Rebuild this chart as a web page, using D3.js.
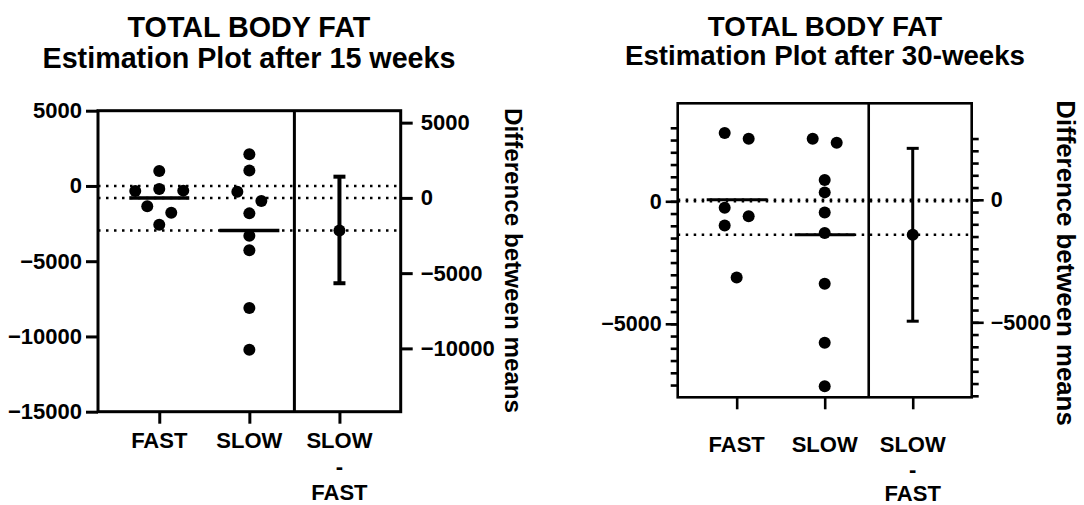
<!DOCTYPE html>
<html>
<head>
<meta charset="utf-8">
<script src="https://cdnjs.cloudflare.com/ajax/libs/d3/7.8.5/d3.min.js"></script>
<style>
  body { margin: 0; background: #fff; }
  svg text { font-family: "Liberation Sans", Arial, sans-serif; font-weight: bold; fill: #000; }
</style>
</head>
<body>
<svg id="chart" width="1084" height="505"></svg>
<script>
// values
const categories = ["FAST", "SLOW", "SLOW - FAST"];

const fast15 = [1000, -200, -311, -333, -1356, -1778, -2578];
const slow15 = [2111, 1022, -378, -1000, -1822, -3311, -4267, -8111, -10889];
const ci15 = [-5670, 1410];

const fast30 = [2791, 2549, -267, -607, -983, -3115];
const slow30 = [2549, 2387, 866, 364, -457, -1294, -3370, -5769, -7549];
const ci30 = [-4955, 2100];

const leftTicks15 = [5000, 0, -5000, -10000, -15000];
const rightTicks15 = [5000, 0, -5000, -10000];
const leftTicks30 = [0, -5000];
const rightTicks30 = [0, -5000];
const leftMinor30 = d3.range(-7500, 3001, 500);
const rightMinor30 = d3.range(-8000, 2501, 500);

const title1 = "TOTAL BODY FAT";
const subtitle15 = "Estimation Plot after 15 weeks";
const subtitle30 = "Estimation Plot after 30-weeks";
const diffLabel = "Difference between means";

const svg = d3.select("#chart");

// simple beeswarm: columns 2 dot widths apart, each overlapping cluster centred
function swarm(values, y, r) {
  const pts = values.map(v => ({ v: v, y: y(v), dx: 0 })).sort((a, b) => a.y - b.y);
  const placed = [];
  let cluster = [];
  const flush = () => {
    if (!cluster.length) return;
    const ext = d3.extent(cluster, p => p.dx);
    const s = (ext[0] + ext[1]) / 2;
    cluster.forEach(p => p.dx -= s);
    cluster = [];
  };
  const step = 2 * r;
  const cands = [0, 1, -1, 2, -2, 3, -3, 4, -4].map(k => k * step);
  pts.forEach((p, i) => {
    if (i > 0 && p.y - pts[i - 1].y >= 2 * r) flush();
    p.dx = cands.find(c => placed.every(q => Math.abs(q.dx - c) >= 4 * r || Math.abs(q.y - p.y) >= 2 * r));
    placed.push(p);
    cluster.push(p);
  });
  flush();
  return pts;
}

function drawPanel(o) {
  const g = svg.append("g");
  const y = d3.scaleLinear().domain(o.domain).range([o.y1, o.y0]);
  const x = d3.scalePoint().domain(categories).range([o.x0, o.x1]).padding(o.pad);

  const fastMean = d3.mean(o.fast);
  const slowMean = d3.mean(o.slow);
  const diff = slowMean - fastMean;
  const yd = d3.scaleLinear()
    .domain([o.domain[0] - fastMean, o.domain[1] - fastMean])
    .range([o.y1, o.y0]);

  // titles
  g.append("text").attr("x", o.tx).attr("y", o.ty1).attr("text-anchor", "middle")
    .style("font-size", o.titleSize + "px").text(title1);
  g.append("text").attr("x", o.tx).attr("y", o.ty2).attr("text-anchor", "middle")
    .style("font-size", o.titleSize + "px").text(o.subtitle);

  // dotted reference lines
  [0, fastMean, slowMean].forEach(v => {
    g.append("line")
      .attr("x1", o.x0).attr("x2", o.x1)
      .attr("y1", y(v)).attr("y2", y(v))
      .attr("stroke", "#000").attr("stroke-width", 2.5)
      .attr("stroke-dasharray", "2.5 5.5");
  });

  // frame and divider
  g.append("rect")
    .attr("x", o.x0).attr("y", o.y0)
    .attr("width", o.x1 - o.x0).attr("height", o.y1 - o.y0)
    .attr("fill", "none").attr("stroke", "#000").attr("stroke-width", o.sw);
  const xd = (x("SLOW") + x("SLOW - FAST")) / 2;
  g.append("line").attr("x1", xd).attr("x2", xd).attr("y1", o.y0).attr("y2", o.y1)
    .attr("stroke", "#000").attr("stroke-width", o.sw);

  // left axis
  const la = g.append("g").attr("transform", `translate(${o.x0},0)`)
    .call(d3.axisLeft(y).tickValues(o.leftTicks).tickSize(12).tickPadding(4).tickFormat(d3.format("d")));
  if (o.leftMinor) {
    g.append("g").attr("transform", `translate(${o.x0},0)`)
      .call(d3.axisLeft(y).tickValues(o.leftMinor).tickSize(7).tickFormat(""))
      .call(a => a.select(".domain").remove())
      .selectAll("line").attr("stroke-width", o.sw);
  }
  // right (difference) axis
  const ra = g.append("g").attr("transform", `translate(${o.x1},0)`)
    .call(d3.axisRight(yd).tickValues(o.rightTicks).tickSize(12).tickPadding(o.rPad).tickFormat(d3.format("d")));
  if (o.rightMinor) {
    g.append("g").attr("transform", `translate(${o.x1},0)`)
      .call(d3.axisRight(yd).tickValues(o.rightMinor).tickSize(7).tickFormat(""))
      .call(a => a.select(".domain").remove())
      .selectAll("line").attr("stroke-width", o.sw);
  }
  [la, ra].forEach(a => {
    a.select(".domain").remove();
    a.selectAll("line").attr("stroke-width", o.sw);
    a.selectAll("text").style("font-size", o.tickSize + "px");
  });

  // bottom axis ticks + labels
  const ba = g.append("g").attr("transform", `translate(0,${o.y1})`)
    .call(d3.axisBottom(x).tickSize(12).tickFormat(""));
  ba.select(".domain").remove();
  ba.selectAll("line").attr("stroke-width", o.sw);
  categories.forEach(c => {
    const t = g.append("text").attr("text-anchor", "middle").style("font-size", "22px");
    c.split(" ").forEach((part, i) => {
      t.append("tspan").attr("x", x(c)).attr("y", o.lb + i * o.lg).text(part);
    });
  });

  // rotated right axis title
  g.append("text")
    .attr("transform", `translate(${o.rx},${o.ry}) rotate(90)`)
    .attr("text-anchor", "middle")
    .style("font-size", o.rSize + "px")
    .text(diffLabel);

  // data points and means
  [["FAST", o.fast, fastMean], ["SLOW", o.slow, slowMean]].forEach(([c, vals, m]) => {
    g.append("g").selectAll("circle")
      .data(swarm(vals, y, o.r))
      .join("circle")
      .attr("cx", d => x(c) + d.dx)
      .attr("cy", d => d.y)
      .attr("r", o.r)
      .attr("fill", "#000");
    g.append("line")
      .attr("x1", x(c) - 30).attr("x2", x(c) + 30)
      .attr("y1", y(m)).attr("y2", y(m))
      .attr("stroke", "#000").attr("stroke-width", o.mw);
  });

  // difference with CI
  const cx = x("SLOW - FAST");
  g.append("line").attr("x1", cx).attr("x2", cx)
    .attr("y1", yd(o.ci[0])).attr("y2", yd(o.ci[1]))
    .attr("stroke", "#000").attr("stroke-width", o.ew);
  o.ci.forEach(v => {
    g.append("line").attr("x1", cx - 6).attr("x2", cx + 6)
      .attr("y1", yd(v)).attr("y2", yd(v))
      .attr("stroke", "#000").attr("stroke-width", o.ew);
  });
  g.append("circle").attr("cx", cx).attr("cy", yd(diff)).attr("r", o.r).attr("fill", "#000");
}

drawPanel({
  fast: fast15, slow: slow15, ci: ci15, subtitle: subtitle15,
  domain: [-15000, 5000], leftTicks: leftTicks15, rightTicks: rightTicks15,
  x0: 98, x1: 400.7, y0: 110.7, y1: 411.7, pad: 0.68,
  tx: 249, ty1: 37, ty2: 68, titleSize: 28.7,
  sw: 3, mw: 3.5, ew: 4, r: 6, tickSize: 22, rPad: 8,
  lb: 448, lg: 26, rx: 505, ry: 260.5, rSize: 24.2
});

drawPanel({
  fast: fast30, slow: slow30, ci: ci30, subtitle: subtitle30,
  domain: [-8000, 4000], leftTicks: leftTicks30, rightTicks: rightTicks30,
  leftMinor: leftMinor30, rightMinor: rightMinor30,
  x0: 677.7, x1: 971.7, y0: 103.3, y1: 397.3, pad: 0.67,
  tx: 825, ty1: 36, ty2: 65, titleSize: 27.7,
  sw: 2.6, mw: 3, ew: 3, r: 6, tickSize: 21.5, rPad: 7,
  lb: 452, lg: 24.5, rx: 1057, ry: 263, rSize: 25.8
});
</script>
</body>
</html>
